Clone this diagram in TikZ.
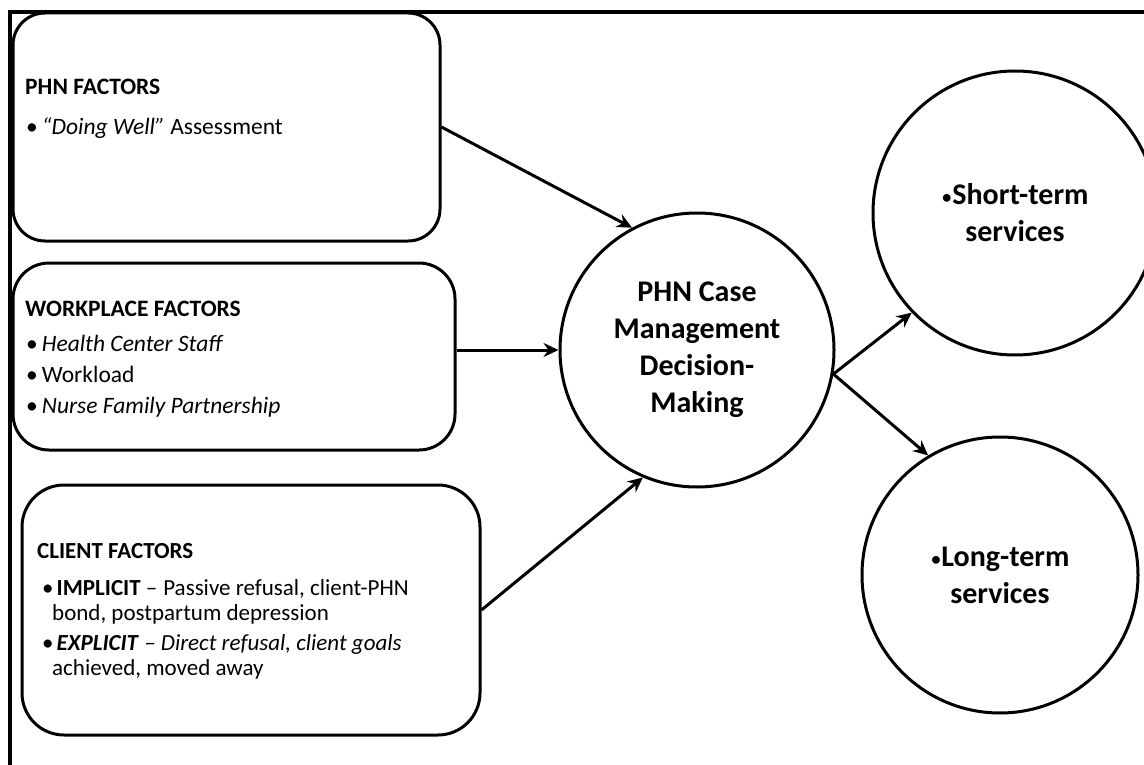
\documentclass[tikz,border=0pt]{standalone}
\usepackage{fontspec}
\setmainfont{Carlito}
\usetikzlibrary{arrows.meta}
\newcommand{\smallbul}{{\mdseries\fontsize{22}{22}\selectfont •}}
\begin{document}
\begin{tikzpicture}[x=1pt,y=-1pt,
  factorbox/.style={draw, line width=3pt, rounded corners=#1, inner sep=0pt},
  bubble/.style={draw, circle, line width=3pt, inner sep=0pt, align=center,
    font=\fontsize{30}{37}\selectfont\bfseries},
  ln/.style={anchor=base west, inner sep=0pt, font=\fontsize{23.5}{27}\selectfont},
  ln3/.style={anchor=base west, inner sep=0pt, font=\fontsize{23}{27}\selectfont},
  conn/.style={line width=3pt, -{Stealth[length=15pt,width=14pt,inset=5pt]}}]
\useasboundingbox (0,0) rectangle (1144,765);
% frame
\draw[line width=3.5pt] (10,765) -- (10,12) -- (1144,12);
% boxes
\node[factorbox=32pt, minimum width=427pt, minimum height=228pt] (phn) at (226.5,127) {};
\node[factorbox=36pt, minimum width=442pt, minimum height=187pt] (wp) at (234,356.5) {};
\node[factorbox=42pt, minimum width=458pt, minimum height=250pt] (cl) at (251,610) {};
% box 1 text
\node[ln] (phnh) at (25,95) {\bfseries PHN FACTORS};
\node[ln] (phn1) at (26,135) {•\hspace{4pt}\textit{“Doing Well”} Assessment};
% box 2 text
\node[ln] (wph) at (25,316) {\bfseries WORKPLACE FACTORS};
\node[ln] (wp1) at (26,351) {•\hspace{4pt}\textit{Health Center Staff}};
\node[ln] (wp2) at (26,382) {•\hspace{4pt}Workload};
\node[ln] (wp3) at (26,413) {•\hspace{4pt}\textit{Nurse Family Partnership}};
% box 3 text
\node[ln3] (clh) at (37,558) {\bfseries CLIENT FACTORS};
\node[ln3] (cl1) at (42,595) {•\hspace{3pt}\textbf{IMPLICIT} –\hspace{6pt}Passive refusal, client-PHN};
\node[ln3] (cl1b) at (52,620) {bond, postpartum depression};
\node[ln3] (cl2) at (42,650) {•\hspace{3pt}\textbf{\textit{EXPLICIT}} \textit{– Direct refusal, client goals}};
\node[ln3] (cl2b) at (52,675) {achieved, moved away};
% circles
\node[bubble, minimum size=274pt] (dm) at (697,350) {PHN Case\\Management\\Decision-\\Making};
\node[bubble, minimum size=284pt] (st) at (1015,213) {\smallbul Short-term\\services};
\node[bubble, minimum size=276pt] (lt) at (1000,575) {\smallbul Long-term\\services};
% connectors
\draw[conn] (phn.east) -- (dm.118);
\draw[conn] (wp.east |- dm.west) -- (dm.west);
\draw[conn] (cl.east) -- (dm.247);
\draw[conn] (dm.-10) -- (st.224);
\draw[conn] (dm.-10) -- (lt.121);
\end{tikzpicture}
\end{document}
